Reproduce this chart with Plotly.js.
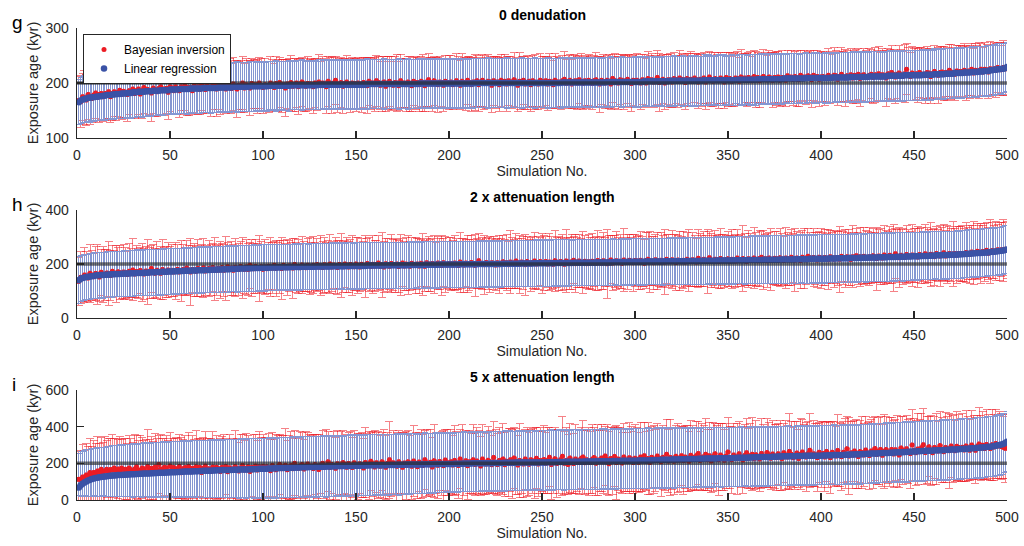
<!DOCTYPE html>
<html><head><meta charset="utf-8">
<script src="https://cdn.plot.ly/plotly-3.0.1.min.js"></script>
<style>html,body{margin:0;padding:0;background:#fff}#chart{width:1024px;height:546px}
#chart path.yerror{shape-rendering:crispEdges}</style>
</head><body><div id="chart"></div>
<script>
const panelTitles = ["0 denudation", "2 x attenuation length", "5 x attenuation length"];
const panelLetters = ["g", "h", "i"];
const seriesNames = ["Bayesian inversion", "Linear regression"];
const xTitle = "Simulation No.";
const yTitle = "Exposure age (kyr)";
const trueAge = 200;
const yRanges = [[100, 300], [0, 400], [0, 600]];
const yTickVals = [[100, 200, 300], [0, 200, 400], [0, 200, 400, 600]];
const xTickVals = [0, 50, 100, 150, 200, 250, 300, 350, 400, 450, 500];

// ---------- panel g : 0 denudation ----------
const linAgeG = [
165,168,170,171,172,173,173,174,174,175,175,176,176,177,177,178,178,178,179,179,180,180,180,181,181,
181,182,182,182,183,183,183,184,184,184,184,185,185,185,185,186,186,186,186,187,187,187,187,187,188,
188,188,188,188,189,189,189,189,189,189,190,190,190,190,190,190,190,191,191,191,191,191,191,191,191,
192,192,192,192,192,192,192,192,193,193,193,193,193,193,193,193,193,194,194,194,194,194,194,194,194,
194,194,195,195,195,195,195,195,195,195,195,195,195,195,196,196,196,196,196,196,196,196,196,196,196,
196,196,196,196,197,197,197,197,197,197,197,197,197,197,197,197,197,197,197,197,197,197,197,197,197,
197,197,197,197,197,198,198,198,198,198,198,198,198,198,198,198,198,198,198,198,198,198,198,198,198,
198,198,198,198,198,198,198,198,199,199,199,199,199,199,199,199,199,199,199,199,199,199,199,199,199,
199,199,199,199,199,199,199,199,199,199,199,199,199,200,200,200,200,200,200,200,200,200,200,200,200,
200,200,200,200,200,200,200,200,200,200,200,200,200,200,200,200,200,200,200,200,200,200,200,200,200,
200,200,200,200,200,200,200,200,200,200,201,201,201,201,201,201,201,201,201,201,201,201,201,201,201,
201,201,201,201,201,201,201,201,201,202,202,202,202,202,202,202,202,202,202,202,202,202,202,202,202,
202,202,202,202,203,203,203,203,203,203,203,203,203,203,203,203,203,203,204,204,204,204,204,204,204,
204,204,204,204,204,204,204,204,204,204,204,205,205,205,205,205,205,205,205,205,205,205,205,205,205,
205,205,205,205,206,206,206,206,206,206,206,206,206,206,206,207,207,207,207,207,207,207,207,207,207,
207,207,207,207,208,208,208,208,208,208,208,208,208,208,208,208,209,209,209,209,209,209,209,209,209,
209,209,209,209,209,210,210,210,210,210,210,210,210,210,210,211,211,211,211,211,211,211,211,211,211,
212,212,212,212,212,212,212,212,212,212,213,213,213,213,213,213,213,213,213,214,214,214,214,214,214,
214,214,214,214,215,215,215,215,215,215,216,216,216,216,216,216,217,217,217,217,217,218,218,218,218,
218,219,219,219,219,220,220,220,220,221,221,221,222,222,222,223,223,224,224,225,225,226,226,227,229];
const linErrG = [
41,42,42,43,43,43,44,43,44,44,44,45,44,44,45,44,45,45,44,45,45,44,45,45,45,
45,44,45,46,45,45,44,45,45,46,45,45,44,45,46,45,45,45,44,45,46,45,45,44,45,
44,45,45,46,44,45,45,44,46,45,45,44,45,45,46,45,44,45,45,44,45,46,45,45,44,
45,44,45,45,44,46,45,44,45,45,46,44,45,44,45,45,44,46,45,45,44,45,44,45,46,
44,45,44,45,45,44,46,45,44,45,44,45,45,46,44,45,44,44,45,45,46,45,44,45,44,
45,44,45,44,46,45,44,45,45,44,45,44,46,45,44,45,44,45,45,44,45,46,44,45,44,
44,45,45,44,45,46,44,45,44,45,45,44,45,44,46,45,44,45,44,45,45,44,46,45,44,
45,44,46,45,44,45,44,45,45,44,46,45,44,45,44,45,44,45,46,44,45,44,45,45,44,
44,45,44,46,45,44,45,45,44,45,44,46,45,44,45,45,44,45,44,45,46,44,45,44,45,
45,44,45,44,45,46,44,45,45,44,45,44,45,46,44,45,44,45,45,44,46,45,44,45,45,
44,45,46,44,45,44,45,45,44,46,45,44,45,44,45,45,46,44,45,44,45,45,44,46,45,
45,44,45,45,46,44,45,44,45,45,44,46,45,45,44,45,44,46,45,44,45,45,44,45,46,
45,46,44,45,45,44,46,45,45,44,45,46,45,44,45,45,46,45,44,45,46,45,45,44,45,
46,45,45,44,46,45,45,46,44,45,45,46,45,44,46,45,45,44,45,46,45,45,46,44,45,
45,46,45,45,44,46,45,46,45,44,45,46,45,45,46,44,45,46,45,45,46,45,44,46,45,
46,45,45,46,45,44,46,45,46,45,45,46,44,45,46,45,46,45,45,44,46,45,46,45,45,
45,46,45,46,45,45,46,44,46,45,46,45,45,46,45,44,46,45,46,45,45,46,45,46,45,
46,45,46,45,45,46,45,46,44,46,45,46,45,46,45,45,46,45,46,45,46,45,45,46,45,
45,46,45,46,46,45,46,45,46,45,46,46,45,46,45,46,45,46,46,45,46,45,46,46,45,
46,45,46,46,45,46,46,45,46,46,45,46,45,46,46,45,46,46,45,46,46,45,46,45,45];
const bayAgeG = [
168,166,175,173,169,179,174,172,178,182,174,179,181,175,181,179,184,175,181,184,179,183,187,179,185,
183,179,186,183,189,181,186,189,180,186,192,184,188,186,182,191,188,184,190,193,186,189,190,183,193,
191,186,193,189,186,193,191,195,188,192,192,186,195,191,193,188,197,193,188,195,192,190,196,194,189,
196,191,194,198,189,193,195,190,198,195,189,196,194,200,191,197,195,191,199,195,197,193,200,196,192,
197,195,193,200,197,192,199,196,201,194,197,191,198,197,201,194,197,200,193,198,202,197,194,199,198,
198,193,200,197,202,195,200,198,193,203,199,196,200,205,195,198,201,194,199,202,198,195,200,199,196,
200,198,195,201,199,195,203,199,200,197,204,201,196,199,202,194,200,203,199,196,201,200,195,204,199,
200,197,202,199,195,203,200,201,197,203,200,195,202,206,201,198,204,200,197,202,201,196,203,200,201,
202,197,200,204,201,196,203,200,198,205,201,197,202,201,204,197,202,205,201,199,203,202,196,204,201,
202,197,205,201,203,198,204,202,199,206,201,196,203,202,205,198,201,203,197,204,202,201,198,205,203,
201,204,198,203,202,197,205,201,202,199,204,207,199,202,205,198,203,204,200,206,203,199,204,202,205,
203,199,204,206,202,198,205,203,200,205,203,198,208,204,203,200,206,205,201,204,207,203,199,205,204,
205,203,200,206,205,200,208,204,206,202,205,210,201,204,207,200,205,206,205,202,208,206,203,209,207,
206,201,208,205,207,203,209,206,202,207,205,209,202,207,211,206,203,208,207,204,209,207,202,210,206,
208,203,206,209,208,203,211,207,209,205,210,208,204,212,207,210,204,209,212,208,206,211,209,205,210,
209,211,205,210,209,205,213,210,211,207,212,209,206,214,210,211,208,213,211,206,214,210,212,207,211,
212,208,211,214,210,208,214,213,207,212,216,211,209,213,212,215,209,214,212,216,208,213,215,212,210,
214,216,210,215,213,217,211,215,214,209,217,214,219,215,211,216,218,214,212,217,225,216,212,218,215,
217,213,219,216,216,213,219,218,212,217,221,217,214,219,220,217,219,216,223,220,218,216,222,220,221,
220,223,218,222,220,225,218,223,222,222,225,220,225,224,220,226,224,226,223,228,226,224,228,226,226];
const bayErrG = [
44,47,43,49,46,45,50,44,48,46,43,51,47,45,49,44,48,46,50,45,47,43,49,46,48,
46,49,44,47,51,45,48,46,43,50,47,45,49,44,52,46,48,45,47,50,44,48,46,49,45,
47,44,50,46,48,43,49,45,47,51,46,44,48,46,50,45,47,49,44,48,46,51,45,47,49,
45,48,46,50,44,47,49,45,48,46,52,44,47,49,45,48,46,50,45,47,44,49,46,48,47,
48,45,47,49,46,44,50,47,45,48,46,51,44,47,49,46,48,45,50,47,44,48,46,49,45,
46,49,45,47,50,44,48,46,49,45,47,52,46,44,48,47,45,50,46,48,44,49,47,45,48,
47,45,49,46,48,51,44,47,45,49,46,48,44,50,47,45,48,46,49,44,47,51,45,48,46,
45,48,46,50,47,44,49,46,48,45,51,47,44,48,46,49,45,47,50,46,44,48,47,45,49,
48,46,44,49,47,45,50,46,48,44,47,49,45,51,46,48,44,47,49,45,48,46,50,44,47,
46,49,47,45,48,50,44,47,46,49,45,48,52,46,44,47,49,45,48,46,50,44,47,49,45,
47,45,48,50,46,44,49,47,45,48,46,51,44,48,47,45,49,46,48,44,50,47,45,48,46,
45,48,46,49,47,51,44,48,46,45,49,47,44,50,46,48,45,47,49,46,44,48,50,45,47,
48,46,49,45,47,44,50,46,48,47,45,49,52,46,44,48,47,45,49,46,48,44,47,50,46,
46,49,45,48,50,46,44,47,49,45,48,46,50,44,47,49,46,48,45,51,47,44,48,46,49,
47,45,48,46,49,44,50,47,45,48,46,49,44,47,51,46,48,45,49,47,44,48,46,50,45,
49,46,47,50,45,48,46,44,49,47,45,51,48,46,44,49,47,45,48,50,46,44,47,49,46,
46,48,45,49,47,44,50,46,48,45,49,47,52,46,44,48,47,45,49,46,50,44,48,47,45,
48,45,47,50,46,49,44,48,46,51,45,47,49,46,48,44,50,47,45,53,46,48,44,49,47,
47,49,46,48,45,50,47,44,49,46,48,45,51,47,46,49,44,48,47,50,45,48,46,49,47,
46,48,50,45,49,47,44,48,46,51,47,45,49,46,48,50,45,47,49,46,48,44,50,47,48];

// ---------- panel h : 2 x attenuation length ----------
const linAgeH = [
140,145,148,150,152,153,154,155,156,157,158,158,159,159,160,160,161,161,162,162,163,163,163,164,164,
165,165,165,166,166,166,167,167,167,167,168,168,168,169,169,169,169,170,170,170,171,171,171,172,172,
172,173,173,173,174,174,174,175,175,175,175,176,176,176,177,177,177,177,178,178,178,179,179,179,180,
180,180,180,181,181,181,181,182,182,182,182,183,183,183,183,184,184,184,184,185,185,185,185,186,186,
186,186,186,187,187,187,187,187,188,188,188,188,188,188,189,189,189,189,189,189,190,190,190,190,190,
190,190,190,191,191,191,191,191,191,191,191,192,192,192,192,192,192,192,192,193,193,193,193,193,193,
193,193,193,193,193,194,194,194,194,194,194,194,194,194,194,195,195,195,195,195,195,195,195,195,195,
195,195,195,196,196,196,196,196,196,196,196,197,197,197,197,197,197,197,197,198,198,198,198,198,198,
198,198,198,198,198,199,199,199,199,199,199,199,199,199,199,200,200,200,200,200,200,200,200,200,200,
200,200,200,201,201,201,201,201,201,201,201,201,202,202,202,202,202,202,202,202,203,203,203,203,203,
203,203,203,203,203,203,204,204,204,204,204,204,204,204,204,204,205,205,205,205,205,205,205,205,205,
205,205,205,206,206,206,206,206,206,206,206,206,207,207,207,207,207,207,207,207,208,208,208,208,208,
208,208,208,208,208,209,209,209,209,209,209,209,209,209,209,210,210,210,210,210,210,210,210,210,210,
210,210,211,211,211,211,211,211,211,211,212,212,212,212,212,212,212,212,213,213,213,213,213,213,213,
213,213,213,214,214,214,214,214,214,214,215,215,215,215,215,215,215,215,216,216,216,216,216,216,216,
216,216,217,217,217,217,217,217,217,217,218,218,218,218,218,218,218,218,219,219,219,219,219,219,219,
219,219,219,220,220,220,220,220,221,221,221,221,221,221,222,222,222,222,222,222,223,223,223,223,223,
224,224,224,224,224,225,225,225,225,225,226,226,226,226,226,227,227,227,227,227,228,228,228,229,229,
229,229,229,230,230,230,230,231,231,231,231,232,232,232,232,233,233,233,233,234,234,234,235,235,236,
236,237,237,238,238,239,239,240,240,241,241,242,242,243,243,244,245,245,246,247,248,249,250,252,254];
const linErrH = [
86,85,85,84,85,84,85,84,85,84,85,85,84,85,84,85,84,85,85,84,85,84,85,84,85,
84,85,84,85,85,84,85,84,85,84,85,85,84,85,84,85,84,85,84,85,85,84,85,84,85,
85,84,85,85,84,85,84,85,86,84,85,84,85,85,84,86,85,84,85,85,84,85,86,84,85,
85,86,84,85,85,86,84,85,85,84,86,85,85,84,85,86,85,84,85,86,85,85,84,86,85,
86,85,85,84,86,85,85,86,84,85,86,85,84,86,85,85,86,84,85,86,85,85,86,84,85,
85,86,85,86,84,85,86,85,85,86,84,86,85,85,86,85,84,86,85,86,85,85,86,84,86,
86,85,86,85,85,86,84,86,85,86,85,85,86,85,84,86,85,86,85,85,86,85,86,85,85,
85,86,85,86,86,85,86,84,86,85,86,85,86,86,85,86,85,85,86,85,86,86,85,86,85,
86,85,86,86,85,86,85,86,86,85,86,85,86,85,86,86,85,86,85,86,86,85,86,85,86,
86,85,86,85,86,86,85,86,85,86,85,86,86,85,86,85,86,85,86,86,85,86,85,86,85,
85,86,85,86,85,86,85,85,86,85,86,85,85,86,85,84,86,85,85,86,85,85,86,85,85,
85,84,85,86,85,85,84,86,85,85,84,85,86,85,84,85,85,86,84,85,85,84,86,85,85,
85,86,85,85,86,85,86,86,85,86,86,85,86,86,87,86,86,85,87,86,86,87,86,86,87,
87,86,87,86,87,87,86,87,88,86,87,87,88,87,86,88,87,87,88,87,86,88,87,88,87,
88,87,88,87,88,88,87,88,89,87,88,88,89,88,87,89,88,88,89,88,87,89,88,89,88,
89,88,89,88,89,89,88,89,90,88,89,89,90,89,88,90,89,89,90,89,88,90,89,90,89,
89,90,89,89,90,89,88,90,89,89,90,89,88,90,89,89,90,88,89,90,89,89,88,90,89,
89,88,89,90,89,88,89,89,90,88,89,89,88,90,89,88,89,89,90,88,89,88,89,89,88,
88,89,88,88,89,88,87,89,88,88,89,87,88,89,88,87,88,89,88,87,88,88,89,87,88,
88,87,88,89,88,87,88,88,89,87,88,88,89,88,87,88,89,88,88,87,89,88,88,89,88];
const bayAgeH = [
136,151,146,159,155,148,166,157,153,165,162,152,169,160,158,167,164,157,173,164,162,171,168,161,170,
168,161,173,167,178,163,172,166,176,169,163,174,171,167,183,173,166,177,171,166,180,173,169,178,175,
177,170,175,181,170,175,180,173,185,178,170,180,177,173,184,179,176,186,174,181,183,177,187,180,177,
184,178,187,177,183,190,180,185,177,188,183,180,191,185,181,189,180,195,185,182,191,187,184,190,181,
189,182,192,188,185,195,184,191,190,183,195,189,186,193,192,185,198,188,191,186,196,191,186,195,192,
187,195,191,198,189,194,187,197,193,190,200,189,196,193,187,198,194,190,200,196,189,198,194,190,200,
195,189,199,194,191,202,197,191,199,193,198,204,192,197,189,201,196,192,202,197,194,200,191,198,204,
193,200,196,192,203,198,195,200,193,203,198,192,205,200,195,202,198,195,204,200,194,205,199,196,202,
201,196,204,199,194,207,201,196,204,200,197,206,202,195,203,212,199,202,197,206,201,198,205,203,196,
205,197,202,208,200,205,197,207,203,199,211,203,199,207,204,197,209,203,200,206,211,200,205,209,202,
205,209,200,207,204,199,212,206,202,209,205,199,211,207,203,208,214,201,207,211,203,206,210,201,208,
204,210,207,202,213,209,204,212,207,201,210,215,204,209,212,206,210,203,215,209,206,214,209,205,213,
211,206,214,209,203,213,218,208,211,205,216,212,207,214,210,207,218,212,209,216,213,206,215,212,208,
214,207,218,213,209,216,212,207,221,215,211,218,214,209,223,213,212,218,216,209,220,215,212,217,219,
211,218,215,211,222,215,213,220,217,210,219,217,213,222,216,212,220,225,215,219,212,222,218,214,221,
219,214,223,218,213,222,219,216,225,221,215,222,219,213,225,220,216,229,222,218,224,220,215,225,221,
218,224,221,216,227,223,218,224,222,218,229,223,220,227,225,217,227,223,231,220,227,220,229,225,224,
227,222,231,225,220,230,227,222,233,226,225,232,229,224,238,229,223,232,228,224,235,230,227,233,232,
231,226,235,231,228,238,233,230,236,233,227,239,233,230,236,242,230,235,239,233,237,239,233,239,237,
239,235,243,239,235,244,241,239,247,244,239,246,243,251,240,246,250,244,249,253,246,253,251,255,252];
const bayErrH = [
88,96,84,102,91,87,108,93,85,99,112,90,86,104,95,88,118,92,97,86,105,90,99,87,101,
94,86,103,90,115,88,97,92,84,108,95,89,121,93,87,100,91,106,85,98,110,89,94,102,88,
97,89,106,92,86,113,94,88,101,90,125,87,99,93,105,88,96,110,91,86,103,95,89,117,92,
90,104,88,96,119,91,85,100,94,108,87,97,92,113,89,102,95,86,106,93,99,88,122,94,90,
101,92,87,109,95,90,104,88,98,116,91,86,103,94,89,111,96,92,100,87,107,93,89,98,105,
93,106,90,98,88,112,95,101,87,97,109,92,88,104,99,90,118,94,86,102,96,91,110,88,97,
105,91,97,88,114,93,100,89,107,95,90,103,88,120,96,92,99,87,108,94,101,90,97,113,89,
92,99,110,90,96,87,105,93,101,88,116,94,89,102,97,91,108,86,99,95,112,90,104,88,96,
98,90,103,95,88,111,92,100,87,106,94,98,89,115,93,101,90,96,109,88,97,104,91,99,93,
89,108,94,99,91,103,88,117,95,90,101,93,107,89,98,112,94,87,100,96,105,91,98,89,110,
102,94,88,106,97,91,112,93,99,89,104,95,118,90,97,101,88,108,93,99,91,114,96,90,103,
96,104,91,99,110,88,97,105,92,128,94,89,101,96,108,91,99,93,115,90,102,95,88,106,97,
91,99,108,93,87,104,97,112,90,98,95,106,89,101,94,119,92,99,88,107,96,103,91,110,94,
105,92,98,114,91,100,95,89,108,97,93,102,90,117,96,99,92,106,89,101,111,94,98,90,103,
94,110,90,99,104,92,98,121,95,89,106,97,93,112,99,90,103,96,109,92,100,95,115,91,98,
100,93,107,96,90,113,98,94,103,91,118,97,92,105,99,110,93,101,95,89,108,96,102,94,112,
97,104,92,111,98,93,106,95,100,122,94,99,108,91,103,97,114,93,100,96,109,92,105,98,95,
108,95,101,93,117,99,104,92,110,97,95,106,100,124,93,98,111,96,103,94,107,99,92,115,101,
99,112,96,104,94,109,101,97,118,93,105,100,96,113,98,103,95,108,100,97,120,94,106,99,102,
103,98,110,95,107,100,116,94,104,99,112,97,108,101,96,119,103,98,110,95,106,100,114,99,105];

// ---------- panel i : 5 x attenuation length ----------
const linAgeI = [
68,80,88,95,101,106,110,114,117,120,122,124,126,127,128,130,131,132,133,134,135,136,137,137,138,
138,139,139,140,141,141,142,142,143,143,144,144,145,145,146,146,147,147,148,148,149,149,150,150,151,
151,152,152,153,153,154,154,155,155,155,156,156,157,157,157,158,158,159,159,159,160,160,161,161,162,
162,162,163,163,163,164,164,164,165,165,165,166,166,166,167,167,167,168,168,168,169,169,170,170,171,
171,171,172,172,172,173,173,173,174,174,174,175,175,175,176,176,176,177,177,177,178,178,179,179,180,
180,180,181,181,181,182,182,182,183,183,183,183,184,184,184,185,185,185,185,186,186,186,186,187,187,
187,187,188,188,188,188,189,189,189,189,189,190,190,190,190,190,191,191,191,191,191,192,192,192,192,
192,193,193,193,193,193,194,194,194,194,194,195,195,195,195,195,196,196,196,196,196,197,197,197,197,
197,197,198,198,198,198,198,199,199,199,199,199,200,200,200,200,200,201,201,201,201,201,201,202,202,
202,202,202,202,203,203,203,203,203,203,204,204,204,204,204,204,204,205,205,205,205,205,205,205,205,
205,205,206,206,206,206,206,207,207,207,207,207,208,208,208,208,208,209,209,209,209,209,210,210,210,
210,210,210,211,211,211,211,212,212,212,212,212,213,213,213,213,213,214,214,214,214,214,214,214,214,
214,215,215,215,216,216,216,217,217,217,218,218,218,219,219,219,220,220,220,221,221,221,221,222,222,
222,222,223,223,223,224,224,224,225,225,225,225,226,226,226,227,227,227,227,228,228,228,228,228,228,
228,229,229,229,230,230,230,231,231,231,232,232,232,233,233,233,234,234,234,235,235,235,235,236,236,
236,237,237,237,238,238,238,239,239,239,239,240,240,240,240,241,241,241,241,241,242,242,242,242,242,
243,243,243,244,244,244,245,245,245,246,246,246,247,247,247,248,248,248,249,249,250,250,251,251,252,
252,253,253,254,254,255,255,256,256,257,257,258,258,259,259,260,260,261,261,262,262,263,263,264,265,
265,266,266,267,267,268,268,269,269,270,270,271,271,272,272,273,273,274,274,275,275,276,276,277,278,
278,279,280,280,281,282,282,283,284,285,286,287,288,289,290,291,292,294,296,298,300,303,306,311,318];
const linErrUpI = [
187,182,178,175,172,170,168,166,164,162,162,161,163,162,160,163,161,162,164,161,163,162,164,162,163,
164,162,165,163,166,164,165,163,166,165,167,164,166,165,167,166,168,165,167,166,168,166,167,165,166,
167,165,168,166,167,165,168,166,164,167,165,168,166,167,165,166,168,164,167,165,166,168,165,167,166,
165,167,164,166,168,165,167,166,164,167,165,166,168,165,167,164,166,167,165,168,166,164,167,165,166,
166,164,167,165,168,166,164,167,165,166,168,165,167,164,166,168,165,167,166,164,167,166,168,165,167,
167,165,168,166,164,167,169,166,168,165,167,166,169,165,167,168,166,164,168,167,165,169,166,168,167,
168,166,169,167,165,168,170,167,169,166,168,167,170,166,168,169,167,165,169,168,166,170,167,169,168,
168,170,167,169,171,168,166,170,168,167,169,171,168,166,170,169,167,171,168,170,166,169,171,167,169,
170,168,171,169,172,168,170,173,169,171,168,172,170,169,173,171,168,172,170,174,169,171,173,170,172,
172,170,173,171,174,170,172,175,171,173,170,174,172,171,175,173,170,174,172,175,171,173,175,172,174,
173,175,172,174,176,172,174,173,175,171,174,176,173,175,172,174,177,173,175,172,174,176,173,175,174,
175,173,176,174,172,175,177,174,176,173,175,172,176,174,177,173,175,176,174,172,176,175,173,177,175,
174,176,173,175,172,174,177,173,175,171,174,176,172,175,173,170,174,172,175,171,173,170,174,172,171,
171,169,172,170,168,171,173,169,171,167,170,172,168,171,169,167,170,168,171,166,169,167,170,168,166,
167,165,168,166,164,167,169,165,167,163,166,168,164,167,165,163,166,164,167,162,165,163,166,164,162,
163,165,162,164,161,163,166,162,164,160,163,165,161,164,162,160,163,161,164,160,162,165,161,163,162,
162,164,161,163,160,162,165,161,163,159,162,164,160,163,161,159,162,160,163,159,161,164,160,162,161,
161,163,160,162,164,161,163,160,162,165,161,163,160,162,164,161,163,160,162,164,161,163,162,160,163,
162,164,161,163,165,162,164,161,163,166,162,164,161,163,165,162,164,161,163,166,162,164,163,161,164,
163,165,162,164,166,163,165,162,164,167,163,165,162,164,166,163,165,162,164,167,163,165,164,162,165];
const linErrDownI = [
46,59,65,75,79,87,89,94,95,102,101,104,107,105,108,112,110,113,113,117,115,117,119,117,119,
120,119,122,121,125,123,123,125,123,127,126,127,126,130,128,130,130,128,132,130,134,132,132,134,134,
135,134,137,136,139,138,136,140,138,141,140,141,140,143,141,143,145,143,145,144,147,144,147,146,149,
148,150,148,150,152,150,152,151,154,151,153,156,153,155,155,157,154,157,156,158,157,158,161,158,161,
160,162,160,162,159,162,163,161,160,163,161,163,160,162,162,164,161,164,161,163,163,161,165,163,165,
163,165,163,165,162,165,162,164,167,164,162,165,164,162,165,164,165,162,164,164,166,162,164,164,166,
164,162,166,164,162,164,162,164,166,163,161,165,163,161,164,162,161,164,162,163,160,163,165,162,160,
162,161,159,162,160,158,161,158,160,157,159,157,159,156,158,155,158,155,157,154,156,154,156,153,155,
153,155,152,154,156,151,153,155,152,154,150,153,155,152,154,151,153,150,152,155,151,153,150,152,154,
152,150,153,151,154,150,152,149,153,151,150,152,154,150,151,153,149,152,150,153,151,149,152,150,153,
151,153,150,152,149,153,151,150,152,149,151,153,150,152,150,151,149,153,151,150,152,150,153,151,152,
151,153,150,152,154,151,150,153,151,152,150,153,151,152,154,150,152,151,153,150,152,151,153,152,151,
152,154,151,153,152,155,153,152,154,151,153,155,152,154,153,151,155,153,152,154,156,153,155,152,154,
154,156,153,155,154,157,155,153,156,154,155,157,154,156,155,153,157,155,154,156,158,155,157,154,156,
155,157,154,156,158,155,157,156,154,157,159,156,158,155,157,156,158,160,157,156,159,157,158,156,158,
157,159,156,158,160,157,159,158,156,159,161,158,160,157,159,158,160,162,159,158,161,159,160,158,160,
159,161,158,160,162,159,161,160,158,161,163,160,162,159,161,160,162,164,161,160,163,161,162,160,162,
160,162,159,161,163,160,162,161,159,162,164,161,163,160,162,161,163,165,162,161,164,162,163,161,163,
161,163,160,162,164,161,163,162,160,163,165,162,164,161,163,162,164,166,163,162,165,163,164,162,164,
162,164,161,163,165,162,164,163,161,164,166,163,165,162,164,163,165,167,164,163,166,164,165,162,164];
const bayAgeI = [
113,110,126,117,136,134,150,139,150,140,158,151,168,151,159,168,153,167,162,175,161,169,160,174,166,
168,157,174,164,153,169,182,162,158,175,169,154,183,167,173,160,180,166,193,169,161,178,174,158,185,
163,177,157,171,183,149,169,177,163,183,154,173,167,181,160,178,150,173,185,165,171,156,180,170,178,
170,156,178,166,183,154,176,169,162,183,172,158,176,188,163,173,181,156,177,171,186,164,181,172,184,
166,181,176,160,188,175,165,182,194,171,180,189,165,178,188,170,201,178,173,185,193,169,184,197,178,
186,172,193,183,166,191,200,178,186,208,177,193,185,173,198,190,182,205,193,179,199,188,177,203,191,
183,198,191,175,205,194,187,211,197,180,203,191,184,209,194,179,200,219,188,203,196,184,208,194,178,
202,188,208,196,184,213,201,182,207,196,188,219,203,192,206,180,214,200,189,210,197,187,218,203,195,
209,191,216,202,188,224,205,196,214,187,208,201,220,193,213,205,186,223,202,196,217,209,192,232,205,
194,216,205,223,192,212,204,220,198,229,210,191,216,208,197,223,206,195,220,213,202,228,196,216,210,
221,201,216,233,194,211,225,199,209,220,238,201,216,193,229,211,199,223,215,206,227,234,203,220,211,
204,222,232,200,218,214,229,208,240,221,198,227,214,237,205,224,218,202,234,217,209,231,223,204,228,
222,206,234,218,242,211,227,204,233,223,215,240,227,208,233,221,250,213,232,225,211,239,228,218,242,
215,235,227,211,244,232,221,241,254,216,235,227,249,220,241,213,236,252,228,220,246,234,217,240,262,
232,219,245,236,225,252,232,218,243,258,228,241,250,225,247,236,223,254,240,232,259,245,228,251,237,
230,252,242,225,258,246,235,265,250,230,242,257,226,249,262,242,234,254,271,237,252,246,231,261,248,
254,235,264,248,231,260,252,240,270,248,236,260,253,279,240,258,245,267,250,237,265,258,245,273,255,
243,267,256,281,248,266,275,244,264,276,253,260,276,251,274,265,246,283,270,259,279,264,253,300,271,
258,278,269,285,301,259,273,291,270,258,286,279,267,297,274,263,287,280,268,295,278,268,293,286,275,
288,273,295,282,272,300,286,271,292,306,283,298,281,303,292,281,301,289,308,294,298,292,288,282,291];
const bayErrI = [
150,162,178,155,171,160,188,152,175,166,190,158,172,164,185,156,180,168,193,159,174,162,186,157,170,
165,152,180,170,158,187,172,161,195,168,154,178,200,163,175,158,183,169,160,190,172,156,178,165,185,
170,158,184,163,176,192,160,173,155,186,168,179,161,197,174,158,182,166,189,171,162,178,193,160,175,
162,178,168,189,155,174,183,160,171,196,165,157,180,172,162,190,169,178,158,184,173,161,192,167,176,
175,160,188,168,179,157,193,171,163,182,170,201,159,176,185,164,179,168,160,191,174,162,187,170,181,
168,183,162,175,190,158,179,172,198,164,176,160,186,169,181,162,194,173,158,180,170,188,165,177,163,
180,165,177,160,193,171,184,158,176,200,163,182,170,159,188,175,166,210,169,178,161,185,172,164,191,
164,186,171,158,180,195,167,175,162,189,172,160,184,170,178,163,198,167,181,159,174,190,166,179,172,
176,162,190,170,181,159,205,174,166,185,171,163,192,168,180,175,160,188,172,165,183,170,158,196,177,
168,180,163,194,175,161,184,172,189,166,178,160,200,170,183,164,187,171,162,179,192,167,175,181,163,
183,167,179,160,191,174,168,186,172,163,215,170,180,165,188,176,162,190,171,178,166,197,174,160,185,
170,188,164,178,195,167,181,172,160,190,175,168,184,163,201,172,179,166,186,170,161,193,177,168,182,
176,164,188,171,182,160,196,174,167,185,170,179,162,190,175,168,187,172,206,165,180,170,189,174,161,
185,170,178,163,192,175,167,188,172,160,184,177,198,166,180,172,189,164,178,195,170,183,165,176,190,
168,184,172,160,195,176,165,182,171,189,163,178,200,170,185,167,179,192,173,162,188,176,169,183,174,
180,166,190,175,162,186,171,208,177,164,184,172,160,193,176,169,187,174,203,165,181,170,186,163,178,
172,188,165,180,193,169,178,162,197,174,184,167,190,176,212,171,182,165,188,174,168,195,172,185,166,
186,171,192,175,164,183,179,168,200,177,162,188,173,184,166,194,178,170,187,163,181,175,190,196,172,
177,192,168,185,200,172,181,165,189,176,170,194,163,184,178,168,190,175,205,171,183,166,188,179,172,
185,170,193,176,168,189,174,181,167,196,178,185,170,190,176,172,195,180,188,174,183,178,170,186,175];

// ---------- build figure ----------
const simNo = linAgeG.map((_, i) => i + 1);
const panels = [
  {bay: bayAgeG, bayErr: bayErrG, lin: linAgeG, linUp: linErrG, linDown: linErrG},
  {bay: bayAgeH, bayErr: bayErrH, lin: linAgeH, linUp: linErrH, linDown: linErrH},
  {bay: bayAgeI, bayErr: bayErrI, lin: linAgeI, linUp: linErrUpI, linDown: linErrDownI}
];
const RED = 'rgb(236,28,36)';
const BLUE = 'rgb(58,82,166)';
const BAR_BLUE = 'rgb(132,150,210)';
const TXT = '#262626';
const FONT = 'Liberation Sans, Arial, Helvetica, sans-serif';

const W = 1024, H = 546;
const M = {l: 77, r: 17, t: 28, b: 46};
const plotH = H - M.t - M.b;
// pixel rows (top,bottom) of each panel's plotting area
const panelPx = [[28, 138], [210, 318], [390, 500]];
const toPaperY = py => (H - M.b - py) / plotH;
const toPaperX = px => (px - M.l) / (W - M.l - M.r);

const traces = [];
const layout = {
  width: W, height: H, margin: M,
  paper_bgcolor: '#fff', plot_bgcolor: 'rgba(0,0,0,0)',
  font: {family: FONT, color: TXT, size: 14},
  showlegend: true,
  legend: {x: toPaperX(83), y: toPaperY(34), xanchor: 'left', yanchor: 'top',
    bgcolor: '#fff', bordercolor: TXT, borderwidth: 1, font: {size: 12, color: '#000'},
    tracegroupgap: 0, itemwidth: 30},
  shapes: [], annotations: []
};

panels.forEach((p, k) => {
  const xa = k === 0 ? 'x' : 'x' + (k + 1);
  const ya = k === 0 ? 'y' : 'y' + (k + 1);
  const first = k === 0;
  traces.push({type: 'scatter', mode: 'markers', x: simNo, y: p.bay, xaxis: xa, yaxis: ya,
    name: seriesNames[0], showlegend: first,
    marker: {color: RED, size: 5},
    error_y: {type: 'data', array: p.bayErr, symmetric: true, color: 'rgba(236,28,36,0.55)', thickness: 1, width: 4}});
  traces.push({type: 'scatter', mode: 'markers', x: simNo, y: p.lin, xaxis: xa, yaxis: ya,
    name: seriesNames[1], showlegend: false, hoverinfo: 'skip',
    marker: {color: BLUE, size: 6, opacity: 0},
    error_y: {type: 'data', array: p.linUp, arrayminus: p.linDown, symmetric: false, color: BAR_BLUE, thickness: 1, width: 3}});
  traces.push({type: 'scatter', mode: 'markers', x: simNo, y: p.bay, xaxis: xa, yaxis: ya,
    name: seriesNames[0], showlegend: false, hoverinfo: 'skip', marker: {color: RED, size: 5}});
  traces.push({type: 'scatter', mode: 'markers', x: simNo, y: p.lin, xaxis: xa, yaxis: ya,
    name: seriesNames[1], showlegend: first, marker: {color: BLUE, size: 6.5}});

  const [pt, pb] = panelPx[k];
  const axKey = k === 0 ? '' : String(k + 1);
  layout['xaxis' + axKey] = {
    domain: [0, 1], anchor: ya, range: [0, 500], tickvals: xTickVals,
    ticks: 'inside', ticklen: 7, tickwidth: 1.3, tickcolor: TXT,
    showline: true, linecolor: TXT, linewidth: 1.3, mirror: false,
    showgrid: false, zeroline: false, automargin: false,
    tickfont: {size: 14, color: TXT, family: FONT}, ticklabelstandoff: 4,
    title: {text: xTitle, font: {size: 14, color: TXT, family: FONT}, standoff: 4}
  };
  layout['yaxis' + axKey] = {
    domain: [toPaperY(pb), toPaperY(pt)], anchor: xa, range: yRanges[k], tickvals: yTickVals[k],
    ticks: 'inside', ticklen: 7, tickwidth: 1.3, tickcolor: TXT,
    showline: true, linecolor: TXT, linewidth: 1.3, mirror: false,
    showgrid: false, zeroline: false, automargin: false,
    tickfont: {size: 14, color: TXT, family: FONT}, ticklabelstandoff: 4,
    title: {text: yTitle, font: {size: 14.5, color: TXT, family: FONT}, standoff: 3}
  };
  layout.shapes.push({type: 'line', xref: xa + ' domain', yref: ya, x0: 0, x1: 1, y0: trueAge, y1: trueAge,
    line: {color: 'rgba(40,40,40,0.65)', width: 3.5}, layer: 'above'});
  layout.annotations.push({text: '<b>' + panelTitles[k] + '</b>', xref: 'paper', yref: 'paper',
    x: 0.5, y: toPaperY(pt - 13), xanchor: 'center', yanchor: 'middle', showarrow: false,
    font: {size: 14, color: '#000', family: FONT}});
  layout.annotations.push({text: panelLetters[k], xref: 'paper', yref: 'paper',
    x: toPaperX(10), y: toPaperY(pt - 6), xanchor: 'left', yanchor: 'middle', showarrow: false,
    font: {size: 19, color: '#000', family: FONT}});
});

Plotly.newPlot('chart', traces, layout, {displayModeBar: false, staticPlot: true});
</script>
</body></html>
